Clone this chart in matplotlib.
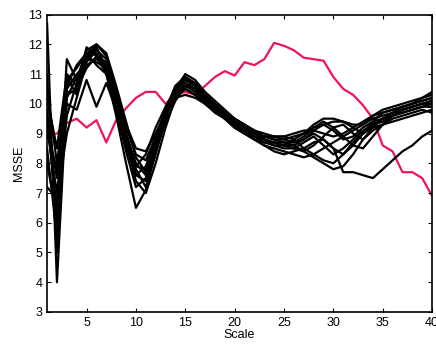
import numpy as np
import matplotlib
matplotlib.use("Agg")
from matplotlib import pyplot as plt

plt.rcParams['font.family'] = ['Liberation Sans', 'DejaVu Sans']

scale = np.arange(1, 41)

# reference curve (red)
red = [8.95, 9.0, 9.35, 9.5, 9.2, 9.45, 8.7, 9.45, 9.85, 10.2,
       10.4, 10.4, 10.0, 10.3, 10.4, 10.3, 10.6, 10.9, 11.1, 10.95,
       11.4, 11.3, 11.5, 12.05, 11.95, 11.8, 11.55, 11.5, 11.45, 10.9,
       10.5, 10.3, 9.95, 9.5, 8.6, 8.4, 7.7, 7.7, 7.5, 6.9]

# black curves
l1 = [12.7, 4.0, 10.4, 10.4, 11.5, 11.9, 11.2, 10.0, 8.8, 7.6,
      7.9, 8.8, 9.8, 10.6, 10.9, 10.7, 10.3, 10.0, 9.7, 9.4,
      9.2, 9.0, 8.9, 8.8, 8.8, 8.9, 9.0, 9.2, 9.3, 9.4,
      9.4, 9.3, 9.3, 9.6, 9.8, 9.9, 10.0, 10.1, 10.2, 10.3]
l2 = [9.8, 6.0, 11.5, 10.8, 11.8, 12.0, 11.6, 10.3, 9.0, 7.8,
      7.2, 8.3, 9.5, 10.5, 11.0, 10.8, 10.4, 10.1, 9.8, 9.5,
      9.3, 9.1, 8.9, 8.8, 8.7, 8.7, 8.8, 9.0, 8.8, 8.5,
      8.3, 8.6, 9.0, 9.3, 9.5, 9.6, 9.8, 9.9, 10.0, 10.1]
l3 = [9.2, 7.0, 10.0, 9.8, 10.8, 9.9, 10.7, 9.8, 8.7, 7.4,
      7.0, 8.0, 9.2, 10.2, 10.5, 10.3, 10.0, 9.7, 9.5, 9.3,
      9.1, 9.0, 8.8, 8.6, 8.5, 8.5, 8.7, 8.9, 8.6, 8.3,
      8.5, 8.8, 9.1, 9.3, 9.4, 9.6, 9.7, 9.8, 9.9, 10.0]
l4 = [8.5, 5.5, 10.2, 10.9, 11.6, 11.7, 11.0, 9.6, 8.0, 6.5,
      7.1, 8.4, 9.6, 10.5, 10.8, 10.6, 10.2, 9.9, 9.6, 9.3,
      9.1, 8.9, 8.7, 8.6, 8.6, 8.8, 9.0, 9.3, 9.5, 9.5,
      9.4, 9.2, 9.0, 9.4, 9.7, 9.8, 9.9, 10.0, 10.1, 10.2]
l5 = [9.5, 7.5, 10.5, 11.0, 11.3, 11.5, 11.3, 10.2, 9.0, 8.0,
      7.6, 8.6, 9.6, 10.3, 10.6, 10.5, 10.1, 9.8, 9.5, 9.2,
      9.0, 8.8, 8.6, 8.4, 8.3, 8.4, 8.5, 8.7, 8.8, 8.5,
      7.7, 7.7, 7.6, 7.5, 7.8, 8.1, 8.4, 8.6, 8.9, 9.1]
l6 = [10.2, 8.5, 11.0, 10.6, 11.9, 11.6, 11.4, 10.4, 9.2, 8.3,
      8.1, 8.9, 9.8, 10.4, 10.5, 10.3, 10.0, 9.8, 9.6, 9.4,
      9.2, 9.0, 8.9, 8.9, 8.9, 9.0, 9.1, 9.1, 9.0, 8.9,
      9.0, 9.2, 9.4, 9.6, 9.7, 9.8, 9.9, 10.0, 10.1, 10.2]
l7 = [7.2, 6.8, 9.0, 10.2, 11.4, 11.8, 11.5, 10.5, 9.3, 8.5,
      8.4, 9.0, 9.7, 10.2, 10.3, 10.2, 10.0, 9.8, 9.6, 9.4,
      9.2, 9.0, 8.9, 8.9, 8.9, 8.8, 8.5, 8.3, 8.1, 8.0,
      8.3, 8.7, 9.0, 9.2, 9.3, 9.4, 9.5, 9.6, 9.7, 9.8]
l8 = [11.0, 5.0, 10.8, 11.2, 11.7, 11.9, 11.1, 9.8, 8.4, 7.2,
      7.5, 8.6, 9.7, 10.6, 10.9, 10.6, 10.2, 9.9, 9.6, 9.3,
      9.0, 8.8, 8.6, 8.5, 8.4, 8.3, 8.2, 8.3, 8.5, 8.7,
      8.9, 9.1, 9.3, 9.5, 9.6, 9.7, 9.9, 10.0, 10.2, 10.4]
l9 = [8.0, 6.2, 9.6, 10.7, 11.5, 11.4, 11.2, 10.1, 8.9, 7.9,
      7.8, 8.8, 9.8, 10.4, 10.7, 10.5, 10.1, 9.8, 9.5, 9.2,
      9.0, 8.9, 8.8, 8.7, 8.6, 8.6, 8.8, 9.1, 9.3, 9.1,
      8.8, 8.9, 9.2, 9.4, 9.5, 9.6, 9.7, 9.8, 9.9, 9.9]
l10 = [9.0, 7.8, 10.3, 10.5, 11.2, 11.6, 11.0, 9.9, 8.6, 7.6,
       7.4, 8.5, 9.6, 10.3, 10.6, 10.4, 10.1, 9.8, 9.5, 9.2,
       9.0, 8.8, 8.7, 8.7, 8.7, 8.6, 8.4, 8.2, 8.0, 7.8,
       7.9, 8.3, 8.8, 9.1, 9.3, 9.5, 9.6, 9.7, 9.8, 9.7]
l11 = [10.5, 8.0, 10.6, 11.3, 11.7, 11.3, 11.0, 10.0, 8.7, 7.9,
       8.3, 9.2, 9.9, 10.5, 10.8, 10.6, 10.2, 9.9, 9.7, 9.5,
       9.3, 9.1, 9.0, 8.9, 8.8, 8.7, 8.9, 9.2, 9.4, 9.2,
       8.9, 8.6, 8.5, 8.9, 9.3, 9.6, 9.8, 9.9, 10.0, 10.1]
l12 = [9.4, 6.5, 10.9, 10.3, 11.6, 12.0, 11.7, 10.6, 9.4, 8.2,
       7.7, 8.4, 9.4, 10.1, 10.6, 10.7, 10.3, 10.0, 9.7, 9.4,
       9.2, 9.0, 8.8, 8.7, 8.6, 8.5, 8.4, 8.6, 8.9, 9.2,
       9.3, 9.0, 8.8, 9.2, 9.5, 9.7, 9.8, 9.9, 10.0, 10.0]

black_lines = [l1, l2, l3, l4, l5, l6, l7, l8, l9, l10, l11, l12]

fig = plt.figure(figsize=(4.36, 3.47), dpi=100)
ax = fig.add_axes([0.108, 0.101, 0.883, 0.857])

ax.plot(scale, red, color='#f0145a', lw=1.6, zorder=1)
for ys in black_lines:
    ax.plot(scale, ys, color='black', lw=1.6, zorder=2)

ax.set_xlim(1, 40)
ax.set_ylim(3, 13)
ax.set_xticks([5, 10, 15, 20, 25, 30, 35, 40])
ax.set_yticks(range(3, 14))
ax.tick_params(direction='in', top=True, right=True, labelsize=9, length=3, width=0.8)
for s in ax.spines.values():
    s.set_linewidth(1.2)

ax.set_xlabel('Scale', fontsize=9, labelpad=0)
ax.set_ylabel('MSSE', fontsize=9, labelpad=2)

fig.savefig('out.png', dpi=100)
